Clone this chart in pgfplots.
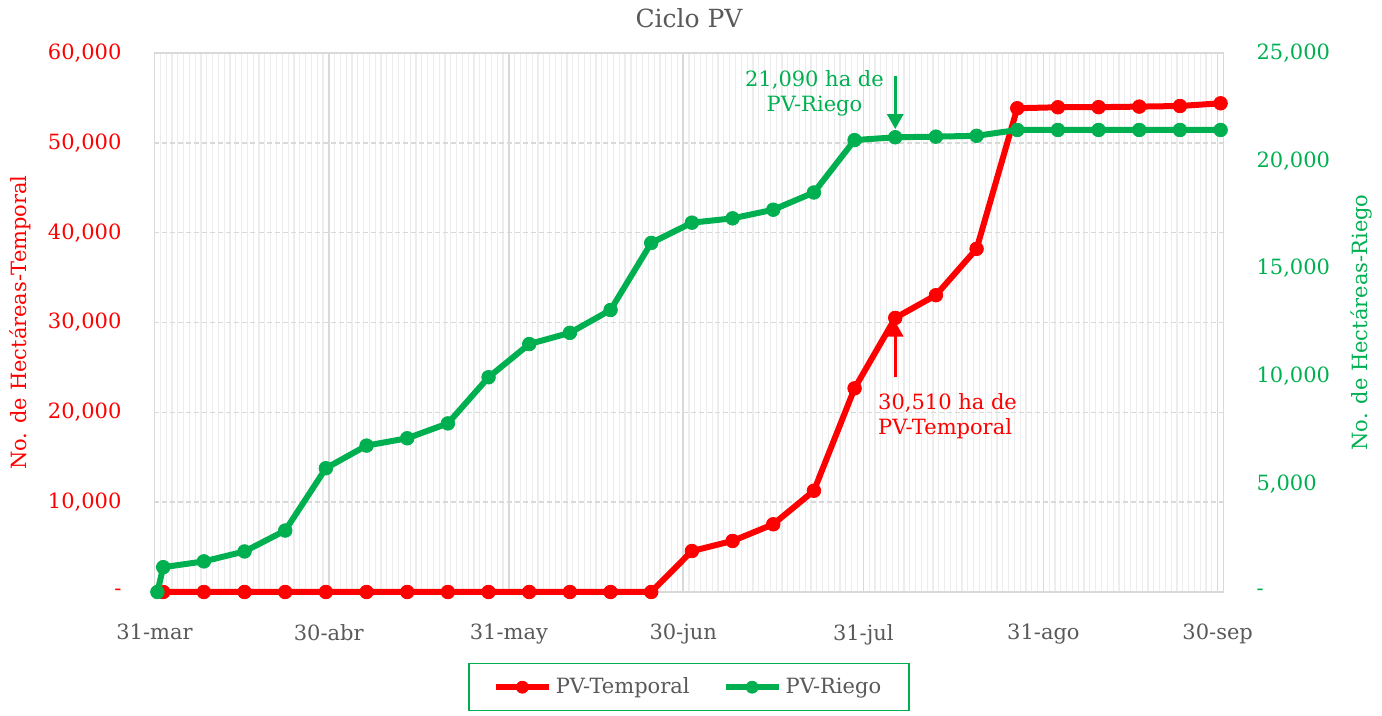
\documentclass[border=0pt]{standalone}
\usepackage{pgfplots}
\pgfplotsset{compat=1.18}
\usetikzlibrary{arrows.meta}
\usepackage{fontspec}
\setmainfont{DejaVu Serif}
\definecolor{cRed}{HTML}{FF0000}
\definecolor{cGreen}{HTML}{00B050}
\definecolor{cText}{HTML}{595959}
\definecolor{cGrid}{HTML}{D9D9D9}
\definecolor{cMinor}{HTML}{EDEDED}
\begin{document}
\begin{tikzpicture}
\path[use as bounding box] (0,0) rectangle (691pt,358pt);
\pgfplotsset{
 base/.style={
  at={(77.25pt,62pt)}, anchor=south west, scale only axis,
  width=534.5pt, height=269.5pt,
  xmin=0, xmax=184, clip=false,
  scaled y ticks=false, scaled x ticks=false,
  major tick length=0pt, minor tick length=0pt,
  tick label style={font=\fontsize{10.5}{12}\selectfont},
  label style={font=\fontsize{10.5}{12}\selectfont},
 }
}
\begin{axis}[base,
 ymin=0, ymax=60000,
 axis line style={draw=cGrid, line width=0.75pt},
 xtick={0,30,61,91,122,153,183},
 xticklabels={31-mar,30-abr,31-may,30-jun,31-jul,31-ago,30-sep},
 minor xtick={0,1,...,184},
 xticklabel style={text=cText, yshift=-12.5pt},
 ytick={0,10000,20000,30000,40000,50000,60000},
 yticklabels={-,{10,000},{20,000},{30,000},{40,000},{50,000},{60,000}},
 yticklabel style={text=cRed, xshift=-13pt},
 xmajorgrids, xminorgrids, ymajorgrids,
 major x grid style={cGrid, line width=0.75pt},
 minor x grid style={cMinor, line width=0.6pt},
 major y grid style={cGrid, line width=0.75pt, dash pattern=on 2.5pt off 1.5pt},
 ylabel={No. de Hectáreas-Temporal},
 ylabel style={text=cRed, at={(axis description cs:-0.1258,0.5)}, anchor=center},
 title={Ciclo PV},
 title style={text=cText, font=\fontsize{12.5}{14}\selectfont, at={(axis description cs:0.5,1)}, anchor=center, yshift=11.5pt},
 legend style={at={(axis description cs:0.5,-0.1317)}, anchor=north, draw=cGreen, line width=0.75pt,
   text=cText, font=\fontsize{10.5}{12}\selectfont, legend columns=2, inner xsep=12pt, inner ysep=5pt,
   /tikz/every even column/.append style={column sep=14.5pt}},
 legend cell align=left,
 legend image code/.code={\draw[mark repeat=2,mark phase=2,mark size=3pt] plot coordinates {(0pt,0pt) (13.25pt,0pt) (26.5pt,0pt)};},
]
\addplot[cRed, line width=3pt, mark=*, mark size=3.4pt, mark options={solid, line width=0.4pt}] coordinates {
(1.5,0)(8.5,0)(15.5,0)(22.5,0)(29.5,0)(36.5,0)(43.5,0)(50.5,0)(57.5,0)(64.5,0)(71.5,0)(78.5,0)(85.5,0)
(92.5,4560)(99.5,5680)(106.5,7540)(113.5,11270)(120.5,22670)(127.5,30510)(134.5,33040)(141.5,38200)
(148.5,53850)(155.5,53960)(162.5,53970)(169.5,54030)(176.5,54100)(183.5,54400)};
\addlegendentry{PV-Temporal}
\addlegendimage{cGreen, line width=3pt, mark=*, mark size=3.4pt, mark options={solid, line width=0.4pt}}
\addlegendentry{PV-Riego}
\draw[cRed, line width=1.5pt, -{Triangle[width=8pt,length=7.5pt]}] (axis cs:127.5,23900) -- (axis cs:127.5,30090);
\node[text=cRed, anchor=north west, inner sep=0pt, align=left, font=\fontsize{10.5}{12.5}\selectfont] at (axis cs:124.5,22190) {30,510 ha de\\PV-Temporal};
\end{axis}
\begin{axis}[base,
 axis x line=none, axis y line*=right,
 axis line style={draw=none},
 ymin=0, ymax=25000,
 ytick={0,5000,10000,15000,20000,25000},
 yticklabels={-,{5,000},{10,000},{15,000},{20,000},{25,000}},
 yticklabel style={text=cGreen, xshift=13pt},
 ylabel={No. de Hectáreas-Riego},
 ylabel style={text=cGreen, at={(axis description cs:1.129,0.5)}, anchor=center},
]
\addplot[cGreen, line width=3pt, mark=*, mark size=3.4pt, mark options={solid, line width=0.4pt}] coordinates {
(0.5,0)(1.5,1150)(8.5,1420)(15.5,1880)(22.5,2850)(29.5,5740)(36.5,6790)(43.5,7130)(50.5,7820)
(57.5,9960)(64.5,11500)(71.5,12020)(78.5,13080)(85.5,16190)(92.5,17130)(99.5,17330)(106.5,17730)
(113.5,18530)(120.5,20960)(127.5,21090)(134.5,21120)(141.5,21160)(148.5,21430)(155.5,21430)
(162.5,21430)(169.5,21430)(176.5,21430)(183.5,21430)};
\draw[cGreen, line width=1.5pt, -{Triangle[width=8pt,length=7.5pt]}] (axis cs:127.5,23930) -- (axis cs:127.5,21470);
\node[text=cGreen, anchor=north, inner sep=0pt, align=center, font=\fontsize{10.5}{12.5}\selectfont] at (axis cs:113.6,24210) {21,090 ha de\\PV-Riego};
\end{axis}
\end{tikzpicture}
\end{document}
